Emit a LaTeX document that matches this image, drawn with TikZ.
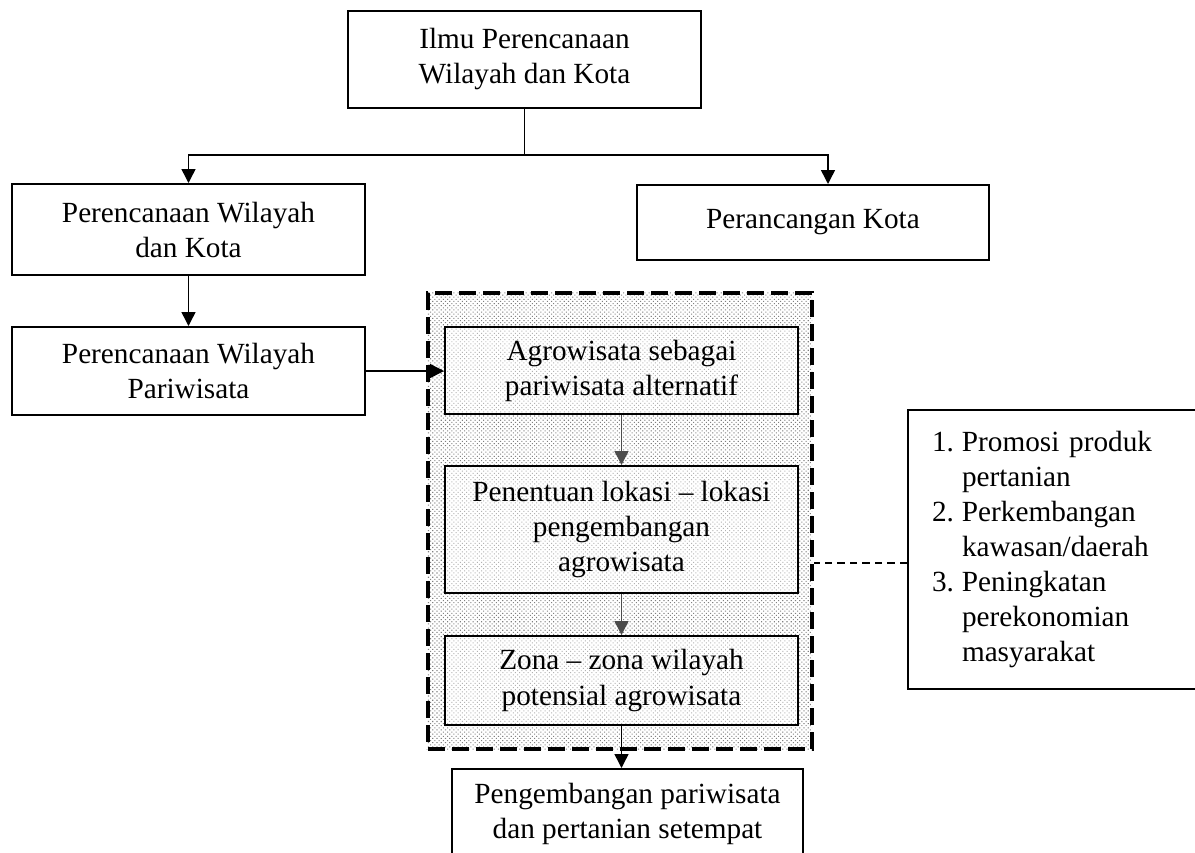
\documentclass[tikz,border=0pt]{standalone}
\usepackage{fontspec}
\setmainfont{Liberation Serif}
\usetikzlibrary{arrows.meta,positioning,patterns.meta}
\tikzset{
  box/.style  ={draw,line width=0.8pt,align=center,minimum width=141.2pt,
                inner sep=2pt,font=\fontsize{11.7}{14}\selectfont},
  inbox/.style={box,preaction={fill=white},
                pattern={Dots[distance=1.2pt,radius=0.28pt,angle=45]},pattern color=black!30},
  zone/.style ={draw,line width=1.6pt,dash pattern=on 6.8pt off 2.8pt,
                minimum width=153.6pt,minimum height=182.4pt,
                pattern={Dots[distance=1.2pt,radius=0.3pt,angle=45]},pattern color=black!50},
  ar/.style   ={-{Triangle[length=5.6pt,width=5.6pt]},line width=0.6pt},
  arg/.style  ={ar,black!70},
  link/.style ={line width=0.6pt,dash pattern=on 3pt off 2pt},
}

\begin{document}
\begin{tikzpicture}[x=0.4pt,y=-0.4pt]
\useasboundingbox (0,0) rectangle (1195,853);
% top level
\node[box,minimum height=38.8pt] (ilmu) at (524.5,59.5) {Ilmu Perencanaan\\ Wilayah dan Kota};
\node[box,minimum height=36.4pt] (pwk) at (188.5,229.5) {Perencanaan Wilayah\\ dan Kota};
\node[box,minimum width=140.8pt,minimum height=30pt] (pk) at (813,222.5) {Perancangan Kota};
\node[box,minimum height=35.2pt,below=20pt of pwk] (pwp) {Perencanaan Wilayah\\ Pariwisata};
% agro zone
\node[zone] (zone) at (620,521) {};
\node[inbox,minimum height=34.8pt] (agro) at (621.5,370.5) {Agrowisata sebagai\\ pariwisata alternatif};
\node[inbox,minimum height=50.8pt,below=20pt of agro] (lok) {Penentuan lokasi -- lokasi\\ pengembangan\\ agrowisata};
\node[inbox,minimum height=35.6pt,below=16.4pt of lok] (zona) {Zona -- zona wilayah\\ potensial agrowisata};
% outcome
\node[box,minimum width=140.4pt,minimum height=35.6pt] (hasil) at (627.5,813.5) {Pengembangan pariwisata\\ dan pertanian setempat};
\node[box,minimum width=122.8pt,minimum height=111.6pt,text width=103.6pt,align=left,inner xsep=9.6pt] (gain) at (1061.5,549.5)
  {\begin{tabular}{@{}p{9pt}@{\hspace{3pt}}l@{}}
   1. & Promosi produk\\ & pertanian\\
   2. & Perkembangan\\ & kawasan/daerah\\
   3. & Peningkatan\\ & perekonomian\\ & masyarakat
   \end{tabular}};
% edges
\coordinate (split) at ([yshift=-18.4pt]ilmu.south);
\draw[line width=0.6pt] (ilmu.south) -- (split);
\draw[ar] (split) -| (pwk.north);
\draw[ar] (split) -| ([xshift=6pt]pk.north);
\draw[ar] (pwk) -- (pwp);
\draw[ar] (pwp.east) -- (pwp.east -| agro.west);
\draw[arg] (agro) -- (lok);
\draw[arg] (lok) -- (zona);
\draw[ar] (zona.south) -- (zona.south |- hasil.north);
\draw[link] ([yshift=-5.4pt]gain.west) -- ([yshift=-5.4pt]gain.west -| zone.east);
\end{tikzpicture}
\end{document}
